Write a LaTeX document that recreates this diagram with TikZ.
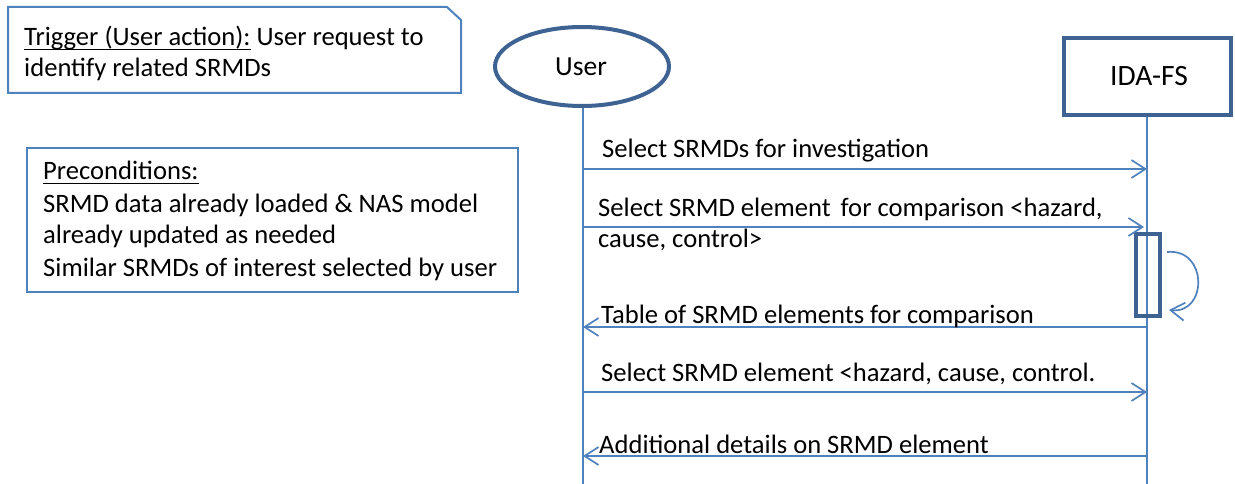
\documentclass[tikz,border=0pt]{standalone}
\usepackage{fontspec}
\setmainfont{Carlito}
\usetikzlibrary{arrows.meta,shapes.geometric}

\definecolor{linkblue}{HTML}{4F81BD}
\definecolor{frameblue}{HTML}{3E6393}

% underline at a fixed distance below the baseline
\newsavebox\ulnbox
\newcommand\uln[1]{\sbox\ulnbox{#1}\rlap{\rule[-4pt]{\wd\ulnbox}{1.3pt}}\usebox\ulnbox}

\begin{document}
\begin{tikzpicture}[x=1pt,y=-1pt,
  every node/.style={font=\fontsize{26.6}{32}\selectfont, inner sep=0pt, text=black},
  notebox/.style={draw=linkblue, line width=2pt},
  actor/.style={draw=frameblue, line width=4pt},
  lifeline/.style={draw=linkblue, line width=1.7pt},
  msg/.style={draw=linkblue, line width=1.7pt,
    -{Straight Barb[length=14pt,width=18pt,line width=1.7pt]}},
  msglabel/.style={anchor=base west}]

\useasboundingbox (0,0) rectangle (1235,484);

% trigger note with folded corner
\draw[notebox] (8,7) -- (447,7) -- (461,20) -- (461,93) -- (8,93) -- cycle;
\node[msglabel] (trig1) at (24,46) {\uln{Trigger (User action):} User request to};
\node[msglabel] (trig2) at (24,77) {identify related SRMDs};

% preconditions note
\draw[notebox] (27,148) rectangle (518,292);
\node[msglabel] (pre1) at (43,180) {\uln{Preconditions:}};
\node[msglabel] (pre2) at (43,212) {SRMD data already loaded \& NAS model};
\node[msglabel] (pre3) at (43,243) {already updated as needed};
\node[msglabel] (pre4) at (43,276) {Similar SRMDs of interest selected by user};

% participants
\node[actor, ellipse, minimum width=174pt, minimum height=79pt] (user) at (582,66.5) {};
\node[anchor=base, font=\fontsize{27.5}{32}\selectfont] (userlbl) at (581,76) {User};
\node[actor, rectangle, minimum width=167pt, minimum height=77pt] (ida) at (1147.5,76.5) {};
\node[anchor=base, font=\fontsize{29.5}{34}\selectfont] (idalbl) at (1149,86) {IDA-FS};

% lifelines
\coordinate (uend) at (583,486);
\coordinate (fend) at (1147,486);
\draw[lifeline] (user.south -| uend) -- (uend);
\draw[lifeline] (ida.south -| fend) -- (fend);

% activation bar
\node[actor, rectangle, minimum width=24pt, minimum height=82pt] (act) at (1148,275) {};

% messages
\coordinate (u1) at (583,169);   \coordinate (f1) at (1147,169);
\coordinate (u2) at (583,227);   \coordinate (f2) at (1144,227);
\coordinate (u3) at (583,327);   \coordinate (f3) at (1147,327);
\coordinate (u4) at (583,392);   \coordinate (f4) at (1147,392);
\coordinate (u5) at (583,456);   \coordinate (f5) at (1147,456);

\draw[msg] (u1) -- (f1);
\node[msglabel] (m1) at (602,158) {Select SRMDs for investigation};

\draw[msg] (u2) -- (f2);
\node[msglabel] (m2a) at (598,216) {Select SRMD element\hspace{4pt} for comparison <hazard,};
\node[msglabel] (m2b) at (598,247) {cause, control>};

% self call on the activation bar
\coordinate (s1) at (1167,252);
\coordinate (s2) at (1169,310);
\draw[msg] (s1) .. controls (1208,248) and (1208,314) .. (s2);

\draw[msg] (f3) -- (u3);
\node[msglabel] (m3) at (601,323) {Table of SRMD elements for comparison};

\draw[msg] (u4) -- (f4);
\node[msglabel] (m4) at (601,381) {Select SRMD element <hazard, cause, control.};

\draw[msg] (f5) -- (u5);
\node[msglabel] (m5) at (599,453) {Additional details on SRMD element};

\end{tikzpicture}
\end{document}
